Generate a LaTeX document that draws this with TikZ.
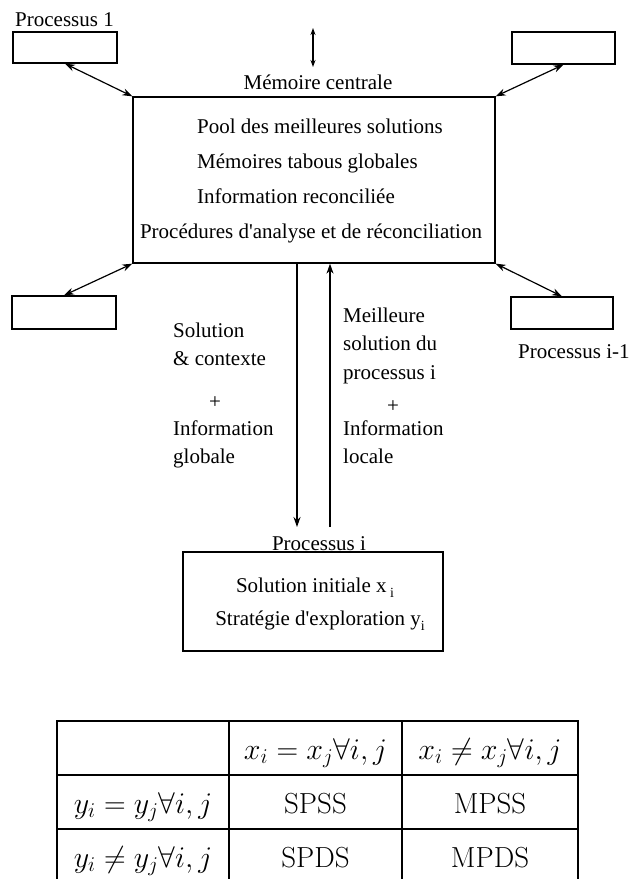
\documentclass[tikz,border=0pt]{standalone}
\usepackage{fix-cm}
\usepackage{fontspec}
\newfontfamily\dfont{Liberation Serif}
\usetikzlibrary{arrows.meta}
\begin{document}
\begin{tikzpicture}[x=1pt,y=-1pt,
  lbl/.style={font=\dfont\fontsize{21}{25}\selectfont, inner sep=0pt},
  pbox/.style={draw, line width=1.3pt, inner sep=0pt},
  conn/.style={line width=1.2pt},
  dbl/.style={conn, {Stealth[length=10pt,width=7pt]}-{Stealth[length=10pt,width=7pt]}},
  sarr/.style={conn, -{Stealth[length=10pt,width=7pt]}},
  tb/.style={font=\fontsize{29}{34}\selectfont, inner sep=0pt, anchor=base},
  tm/.style={font=\fontsize{30}{35}\selectfont, inner sep=0pt, anchor=base},
  tline/.style={line width=1.7pt}]
\useasboundingbox (0,0) rectangle (633,879);

% boxes
\node[pbox, minimum width=104pt, minimum height=31pt] (p1) at (65,47.5) {};
\node[pbox, minimum width=103pt, minimum height=32pt] (p2) at (563.5,48) {};
\node[pbox, minimum width=104pt, minimum height=33pt] (p3) at (64,312.5) {};
\node[pbox, minimum width=102pt, minimum height=32pt] (p4) at (562,313) {};
\node[pbox, minimum width=362pt, minimum height=166pt] (mem) at (314,180) {};
\node[pbox, minimum width=260pt, minimum height=99pt] (pi) at (313,601.5) {};

% labels
\node[lbl, anchor=base west] (l1) at (15,26) {Processus 1};
\node[lbl, anchor=base] (lmem) at (318,89) {Mémoire centrale};
\node[lbl, anchor=base west] (l4) at (518,358) {Processus i-1};
\node[lbl, anchor=base] (lpi) at (319,550) {Processus i};

\node[lbl, anchor=base west] (m1) at (197,133) {Pool des meilleures solutions};
\node[lbl, anchor=base west] (m2) at (197,168) {Mémoires tabous globales};
\node[lbl, anchor=base west] (m3) at (197,203) {Information reconciliée};
\node[lbl, anchor=base] (m4) at (311,238) {Procédures d'analyse et de réconciliation};

\node[lbl, anchor=base west] (a1) at (173,337) {Solution};
\node[lbl, anchor=base west] (a2) at (173,365) {\& contexte};
\node[lbl, anchor=base] (a3) at (215,408) {+};
\node[lbl, anchor=base west] (a4) at (173,435) {Information};
\node[lbl, anchor=base west] (a5) at (173,463) {globale};

\node[lbl, anchor=base west] (b1) at (343,322) {Meilleure};
\node[lbl, anchor=base west] (b2) at (343,350) {solution du};
\node[lbl, anchor=base west] (b3) at (343,379) {processus i};
\node[lbl, anchor=base] (b4) at (393,412) {+};
\node[lbl, anchor=base west] (b5) at (343,435) {Information};
\node[lbl, anchor=base west] (b6) at (343,463) {locale};

\node[lbl, anchor=base] (s1) at (315,592) {Solution initiale x\,\raisebox{-5pt}{\fontsize{14}{14}\selectfont i}};
\node[lbl, anchor=base] (s2) at (320,625) {Stratégie d'exploration y\raisebox{-5pt}{\fontsize{14}{14}\selectfont i}};

% connectors
\draw[dbl] (p1.south) -- (mem.north west);
\draw[dbl] (p2.south) -- (mem.north east);
\draw[dbl] (p3.north) -- (mem.south west);
\draw[dbl] (p4.north) -- (mem.south east);
\coordinate (da) at (313,28);
\coordinate (db) at (313,67);
\draw[conn, {Stealth[length=7pt,width=5pt]}-{Stealth[length=7pt,width=5pt]}] (da) -- (db);
\coordinate (d1) at (297,527);
\coordinate (u1) at (330,527);
\draw[sarr] (mem.south -| d1) -- (d1);
\draw[sarr] (u1) -- (mem.south -| u1);

% table
\draw[tline] (57,879) -- (57,721) -- (578,721) -- (578,879);
\draw[tline] (57,775) -- (578,775);
\draw[tline] (57,829) -- (578,829);
\draw[tline] (229,721) -- (229,879);
\draw[tline] (402,721) -- (402,879);
\node[tm] (t01) at (315.5,759) {$x_i = x_j\forall i, j$};
\node[tm] (t02) at (490,759) {$x_i \neq x_j\forall i, j$};
\node[tm] (t10) at (143,813) {$y_i = y_j\forall i, j$};
\node[tb] (t11) at (315.5,813) {SPSS};
\node[tb] (t12) at (490,813) {MPSS};
\node[tm] (t20) at (143,867) {$y_i \neq y_j\forall i, j$};
\node[tb] (t21) at (315.5,867) {SPDS};
\node[tb] (t22) at (490,867) {MPDS};
\end{tikzpicture}
\end{document}
